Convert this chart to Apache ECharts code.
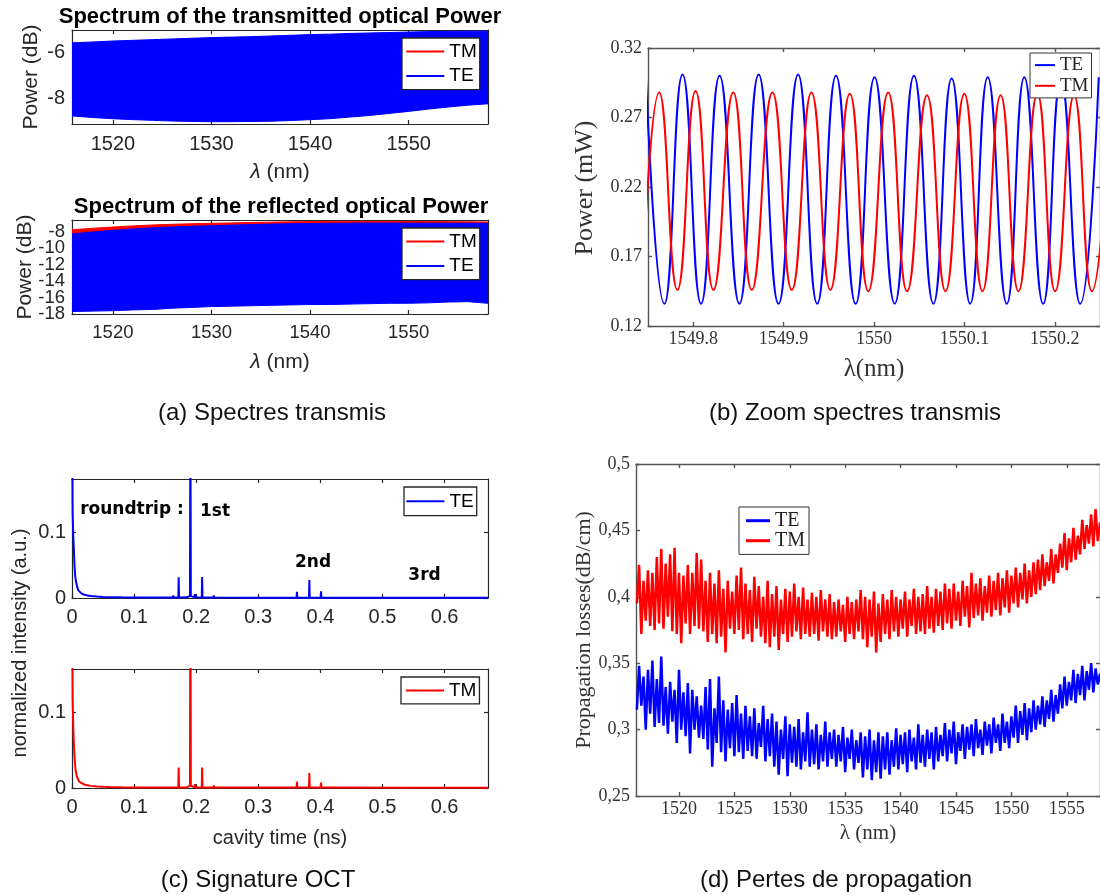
<!DOCTYPE html>
<html>
<head>
<meta charset="utf-8">
<script src="https://cdn.jsdelivr.net/npm/echarts@6/dist/echarts.min.js"></script>
<style>
html,body{margin:0;padding:0;background:#fff;}
#chart{width:1100px;height:895px;}
</style>
</head>
<body>
<div id="chart"></div>
<script>
// ---------- (a) spectra envelopes (dB) ----------
const lamSpec = [1515.85,1518,1520,1522,1524,1526,1528,1530,1532,1534,1536,1538,1540,1542,1544,1546,1548,1550,1552,1554,1556,1558.05];
const transTEtop = [-5.56,-5.52,-5.48,-5.45,-5.42,-5.39,-5.36,-5.33,-5.31,-5.29,-5.26,-5.23,-5.20,-5.18,-5.15,-5.13,-5.11,-5.09,-5.07,-5.06,-5.05,-5.05];
const transTEbot = [-8.75,-8.82,-8.87,-8.91,-8.94,-8.97,-8.99,-9.00,-9.00,-8.99,-8.98,-8.95,-8.91,-8.87,-8.80,-8.73,-8.64,-8.55,-8.45,-8.36,-8.28,-8.22];
const transTMtop = [-5.60,-5.56,-5.52,-5.49,-5.46,-5.43,-5.40,-5.37,-5.35,-5.33,-5.30,-5.27,-5.24,-5.22,-5.19,-5.17,-5.15,-5.13,-5.11,-5.10,-5.09,-5.09];
const transTMbot = [-8.70,-8.77,-8.82,-8.86,-8.89,-8.92,-8.94,-8.95,-8.95,-8.94,-8.93,-8.90,-8.86,-8.82,-8.75,-8.68,-8.59,-8.50,-8.40,-8.31,-8.23,-8.17];
const reflTEtop = [-8.28,-8.05,-7.85,-7.68,-7.55,-7.45,-7.37,-7.30,-7.22,-7.16,-7.10,-7.05,-7.02,-7.00,-6.98,-6.97,-6.97,-6.98,-6.98,-6.99,-6.99,-7.00];
const reflTEbot = [-17.7,-17.65,-17.6,-17.5,-17.45,-17.3,-17.2,-17.1,-17.05,-17.0,-16.95,-16.9,-16.85,-16.85,-16.8,-16.75,-16.7,-16.7,-16.65,-16.55,-16.5,-16.7];
const reflTMtop = [-7.79,-7.60,-7.45,-7.32,-7.20,-7.12,-7.05,-7.00,-6.95,-6.90,-6.86,-6.82,-6.79,-6.77,-6.76,-6.76,-6.77,-6.78,-6.79,-6.80,-6.82,-6.85];
const reflTMbot = [-15.0,-15.0,-15.0,-15.0,-15.0,-15.0,-15.0,-15.0,-15.0,-15.0,-15.0,-15.0,-15.0,-15.0,-15.0,-15.0,-15.0,-15.0,-15.0,-15.0,-15.0,-15.0];
const specXTicks = [1520,1530,1540,1550];
const transYTicks = [-8,-6];
const reflYTicks = [-18,-16,-14,-12,-10,-8];

// ---------- (b) zoom on transmitted spectra (mW), extrema ----------
const zoomTElam = [1549.7476,1549.7681,1549.7882,1549.8087,1549.8292,1549.8511,1549.8724,1549.8944,1549.9160,1549.9372,1549.9580,1549.9797,1550.0006,1550.0229,1550.0442,1550.0657,1550.0859,1550.1064,1550.1258,1550.1469,1550.1663,1550.1871,1550.2068,1550.2281,1550.2486];
const zoomTEpow = [0.300,0.136,0.301,0.136,0.300,0.136,0.301,0.136,0.301,0.136,0.300,0.136,0.299,0.136,0.300,0.136,0.298,0.136,0.299,0.136,0.299,0.136,0.298,0.136,0.299];
const zoomTMlam = [1549.7435,1549.7624,1549.7825,1549.8026,1549.8224,1549.8443,1549.8648,1549.8876,1549.9091,1549.9308,1549.9517,1549.9732,1549.9937,1550.0157,1550.0366,1550.0586,1550.0791,1550.0999,1550.1200,1550.1401,1550.1598,1550.1807,1550.2004,1550.2213,1550.2410,1550.2620];
const zoomTMpow = [0.146,0.288,0.146,0.289,0.146,0.288,0.146,0.288,0.146,0.288,0.146,0.287,0.145,0.288,0.145,0.286,0.145,0.287,0.145,0.286,0.145,0.287,0.145,0.286,0.145,0.286];
const zoomXTicks = [1549.8,1549.9,1550,1550.1,1550.2];
const zoomYTicks = [0.12,0.17,0.22,0.27,0.32];

// ---------- (c) OCT signature ----------
const octTime = [0,0.001,0.002,0.003,0.004,0.005,0.006,0.008,0.010,0.012,0.015,0.020,0.025,0.030,0.040,0.050,0.060,0.080,0.100,0.130,
  0.1625,0.1630,0.1635,0.1712,0.1718,0.1724,0.1845,0.1850,0.1855,0.1900,0.1907,0.1914,0.1975,0.1980,0.1985,
  0.2090,0.2096,0.2102,0.2170,0.2175,0.2180,0.2280,0.2285,0.2290,0.3000,0.3617,0.3623,0.3629,0.3817,0.3823,0.3829,
  0.4005,0.4011,0.4017,0.4205,0.4210,0.4215,0.5525,0.5530,0.5535,0.5722,0.5728,0.5734,0.5915,0.5920,0.5925,0.6700];
const octTE = [0.30,0.13,0.095,0.075,0.05,0.035,0.027,0.018,0.012,0.009,0.007,0.005,0.0038,0.003,0.0022,0.0017,0.0013,0.001,0.0008,0.0007,
  0.0007,0.004,0.0007,0.0008,0.0315,0.0008,0.001,0.004,0.001,0.003,0.30,0.003,0.001,0.006,0.001,
  0.0008,0.032,0.0008,0.0007,0.003,0.0007,0.0007,0.004,0.0007,0.0005,0.0005,0.0096,0.0005,0.0005,0.0274,0.0005,
  0.0005,0.010,0.0005,0.0005,0.0022,0.0005,0.0004,0.0018,0.0004,0.0004,0.003,0.0004,0.0004,0.0018,0.0004,0.0004];
const octTM = [0.30,0.12,0.08,0.06,0.042,0.03,0.022,0.015,0.011,0.008,0.006,0.0045,0.0035,0.0028,0.002,0.0015,0.0012,0.0009,0.0007,0.0006,
  0.0006,0.003,0.0006,0.0007,0.027,0.0007,0.0008,0.003,0.0008,0.003,0.30,0.003,0.0008,0.005,0.0008,
  0.0007,0.027,0.0007,0.0006,0.003,0.0006,0.0006,0.0035,0.0006,0.0005,0.0005,0.008,0.0005,0.0005,0.0199,0.0005,
  0.0005,0.007,0.0005,0.0005,0.002,0.0005,0.0004,0.0012,0.0004,0.0004,0.0022,0.0004,0.0004,0.0012,0.0004,0.0004];
const octXTicks = [0,0.1,0.2,0.3,0.4,0.5,0.6];
const octYTicks = [0,0.1];

// ---------- (d) propagation losses (dB/cm), sampled every 0.2 nm from 1516.2 nm ----------
const lossLamStart = 1516.2, lossLamStep = 0.2;
const lossTE = [
0.315,0.348,0.318,0.340,0.300,0.345,0.312,0.352,0.302,0.338,
0.305,0.355,0.303,0.332,0.297,0.336,0.306,0.330,0.290,0.345,
0.300,0.328,0.295,0.335,0.282,0.330,0.300,0.325,0.294,0.318,
0.293,0.332,0.285,0.338,0.272,0.316,0.290,0.340,0.283,0.322,
0.276,0.315,0.286,0.320,0.280,0.326,0.283,0.312,0.278,0.318,
0.284,0.310,0.280,0.316,0.278,0.305,0.287,0.318,0.276,0.308,
0.280,0.312,0.272,0.306,0.266,0.300,0.278,0.310,0.265,0.304,
0.275,0.302,0.272,0.308,0.270,0.298,0.276,0.313,0.272,0.300,
0.274,0.304,0.270,0.296,0.276,0.306,0.272,0.298,0.278,0.300,
0.272,0.296,0.276,0.302,0.268,0.294,0.278,0.300,0.270,0.292,
0.275,0.298,0.264,0.295,0.270,0.300,0.262,0.292,0.268,0.298,
0.263,0.295,0.270,0.298,0.266,0.292,0.272,0.301,0.270,0.296,
0.274,0.298,0.268,0.300,0.276,0.294,0.270,0.304,0.275,0.296,
0.272,0.300,0.278,0.298,0.270,0.302,0.276,0.296,0.280,0.305,
0.276,0.300,0.282,0.306,0.274,0.298,0.284,0.304,0.278,0.302,
0.285,0.304,0.280,0.308,0.286,0.300,0.281,0.306,0.288,0.304,
0.282,0.309,0.290,0.304,0.284,0.312,0.290,0.306,0.286,0.310,
0.294,0.318,0.290,0.314,0.296,0.320,0.292,0.316,0.298,0.322,
0.300,0.318,0.304,0.325,0.302,0.322,0.308,0.330,0.306,0.326,
0.312,0.334,0.316,0.340,0.318,0.336,0.322,0.345,0.320,0.342,
0.326,0.348,0.322,0.344,0.330,0.350,0.328,0.346,0.334,0.342];
const lossTM = [
0.395,0.424,0.372,0.412,0.382,0.420,0.378,0.418,0.375,0.430,
0.380,0.436,0.376,0.425,0.385,0.432,0.374,0.437,0.372,0.418,
0.365,0.416,0.380,0.424,0.372,0.418,0.378,0.433,0.376,0.428,
0.374,0.412,0.366,0.418,0.372,0.410,0.365,0.420,0.370,0.406,
0.358,0.412,0.376,0.404,0.372,0.416,0.375,0.422,0.368,0.410,
0.372,0.405,0.366,0.415,0.376,0.408,0.370,0.400,0.365,0.412,
0.362,0.402,0.370,0.408,0.360,0.398,0.372,0.406,0.366,0.404,
0.370,0.410,0.374,0.400,0.368,0.407,0.372,0.398,0.370,0.403,
0.372,0.400,0.367,0.405,0.374,0.398,0.370,0.402,0.368,0.396,
0.370,0.398,0.374,0.394,0.366,0.400,0.372,0.396,0.368,0.398,
0.374,0.405,0.368,0.400,0.362,0.398,0.370,0.404,0.358,0.395,
0.366,0.402,0.372,0.398,0.368,0.405,0.374,0.400,0.370,0.398,
0.376,0.404,0.370,0.398,0.378,0.406,0.372,0.400,0.374,0.402,
0.372,0.408,0.376,0.400,0.373,0.406,0.378,0.404,0.375,0.410,
0.380,0.406,0.376,0.410,0.382,0.404,0.378,0.412,0.385,0.408,
0.377,0.418,0.384,0.410,0.386,0.414,0.382,0.408,0.388,0.416,
0.385,0.412,0.390,0.418,0.386,0.414,0.392,0.420,0.388,0.416,
0.395,0.422,0.392,0.418,0.398,0.425,0.395,0.420,0.400,0.426,
0.402,0.428,0.405,0.432,0.408,0.426,0.412,0.436,0.410,0.432,
0.418,0.440,0.422,0.448,0.420,0.444,0.426,0.452,0.428,0.446,
0.432,0.458,0.436,0.454,0.440,0.462,0.438,0.466,0.442,0.456];
const lossXTicks = [1520,1525,1530,1535,1540,1545,1550,1555];
const lossYTicks = [0.25,0.3,0.35,0.4,0.45,0.5];

// ---------- helpers ----------
const BLUE = '#0000ff', RED = '#ff0000';
const SANS = 'Liberation Sans', SERIF = 'Liberation Serif';
const grids = [
  {left:72, top:30, width:416, height:94},
  {left:72, top:220, width:416, height:94},
  {left:648, top:48, width:455, height:278},
  {left:72, top:479, width:416, height:119},
  {left:72, top:669, width:416, height:119},
  {left:636, top:464, width:467, height:332}
];
const xAxes = [], yAxes = [];
function mkAxis(gi, dim, r, st, position, showLine, showTick, labelValues) {
  return {
    type:'value', gridIndex:gi, min:r.min, max:r.max, position,
    axisLine:{show:showLine, onZero:false, lineStyle:{color:st.axis, width:st.aw}},
    axisTick:{show:showTick, inside:true, length:st.tl, customValues:r.ticks, lineStyle:{color:st.axis, width:st.aw}},
    axisLabel:{show:!!labelValues, customValues:labelValues || r.ticks, formatter:r.fmt,
      margin: dim === 'x' ? st.mx : st.my, showMinLabel:true, showMaxLabel:true, hideOverlap:false,
      fontSize:st.fs, fontFamily:st.ff, color:st.lc, lineHeight:st.fs},
    splitLine:{show:false}
  };
}
const extraY = [];
function addAxes(gi, xr, yr, st, ySplit) {
  xAxes.push(mkAxis(gi, 'x', xr, st, 'bottom', true, true, xr.ticks),
             mkAxis(gi, 'x', xr, st, 'top', true, true, null));
  if (ySplit) {
    // dense labels: shared between two left axes so none is auto-hidden
    const even = yr.ticks.filter((_, i) => i % 2 === 0), odd = yr.ticks.filter((_, i) => i % 2 === 1);
    yAxes.push(mkAxis(gi, 'y', yr, st, 'left', true, true, even),
               mkAxis(gi, 'y', yr, st, 'right', true, true, null));
    extraY.push(mkAxis(gi, 'y', yr, st, 'left', false, false, odd));
  } else {
    yAxes.push(mkAxis(gi, 'y', yr, st, 'left', true, true, yr.ticks),
               mkAxis(gi, 'y', yr, st, 'right', true, true, null));
  }
}
const stA = {axis:'#262626', aw:1.2, tl:4, mx:10, my:7, fs:20, ff:SANS, lc:'#262626'};
const stC = {axis:'#262626', aw:1.2, tl:4, mx:9, my:6, fs:20, ff:SANS, lc:'#262626'};
const stB = {axis:'#555555', aw:1.4, tl:4, mx:4, my:6, fs:18, ff:SERIF, lc:'#333333'};
const fmtPlain = v => String(v);
const fmtComma = v => String(v).replace('.', ',');

addAxes(0, {min:1515.85, max:1558.05, ticks:specXTicks, fmt:fmtPlain}, {min:-9.1, max:-5.0, ticks:transYTicks, fmt:fmtPlain}, stA);
addAxes(1, {min:1515.85, max:1558.05, ticks:specXTicks, fmt:fmtPlain}, {min:-18.0, max:-6.6, ticks:reflYTicks, fmt:fmtPlain}, Object.assign({}, stA, {fs:18.5}), true);
addAxes(2, {min:1549.75, max:1550.25, ticks:zoomXTicks, fmt:fmtPlain}, {min:0.12, max:0.32, ticks:zoomYTicks, fmt:fmtPlain}, stB);
addAxes(3, {min:0, max:0.67, ticks:octXTicks, fmt:fmtPlain}, {min:0, max:0.181, ticks:octYTicks, fmt:fmtPlain}, stC);
addAxes(4, {min:0, max:0.67, ticks:octXTicks, fmt:fmtPlain}, {min:0, max:0.157, ticks:octYTicks, fmt:fmtPlain}, stC);
addAxes(5, {min:1516.12, max:1558.0, ticks:lossXTicks, fmt:fmtPlain}, {min:0.25, max:0.5, ticks:lossYTicks, fmt:fmtComma}, stB);
extraY.forEach(a => yAxes.push(a));

const series = [];
// filled envelope of a densely oscillating spectrum, drawn through the axes' scales
function band(gi, name, lam, top, bot, color) {
  series.push({type:'custom', name, xAxisIndex:2*gi, yAxisIndex:2*gi,
    data: lam.map((x,i) => [x, top[i], bot[i]]),
    encode:{x:0, y:[1,2]}, itemStyle:{color}, clip:true, silent:true,
    renderItem: (params, api) => {
      if (params.dataIndex !== 0) return {type:'group', children:[]};
      const pts = [];
      for (let i = 0; i < lam.length; i++) pts.push(api.coord([lam[i], top[i]]));
      for (let i = lam.length - 1; i >= 0; i--) pts.push(api.coord([lam[i], bot[i]]));
      return {type:'polygon', shape:{points:pts}, style:{fill:color, stroke:color, lineWidth:1}};
    }
  });
}
function line(gi, name, xs, ys, color, width, smooth) {
  series.push({type:'line', name, xAxisIndex:2*gi, yAxisIndex:2*gi,
    data: xs.map((x,i) => [x, ys[i]]), symbol:'none', smooth: smooth || false,
    lineStyle:{color, width}, itemStyle:{color}, animation:false, clip:true});
}
band(0, 'TM', lamSpec, transTMtop, transTMbot, RED);
band(0, 'TE', lamSpec, transTEtop, transTEbot, BLUE);
band(1, 'TM', lamSpec, reflTMtop, reflTMbot, RED);
band(1, 'TE', lamSpec, reflTEtop, reflTEbot, BLUE);
line(2, 'TE', zoomTElam, zoomTEpow, BLUE, 2, 0.5);
line(2, 'TM', zoomTMlam, zoomTMpow, RED, 2, 0.5);
line(3, 'TE', octTime, octTE, BLUE, 2);
line(4, 'TM', octTime, octTM, RED, 2);
const lossLam = lossTE.map((_, i) => +(lossLamStart + i * lossLamStep).toFixed(2));
line(5, 'TM', lossLam, lossTM, RED, 2.5);
line(5, 'TE', lossLam, lossTE, BLUE, 2.5);

function legend(data, left, top, o) {
  return {
    data, orient:'vertical', left, top, icon:'rect',
    itemWidth:o.iw, itemHeight:o.ih, itemGap:o.gap, padding:o.pad,
    textStyle:{fontSize:o.fs, fontFamily:o.ff, color:o.tc, lineHeight:o.lh},
    borderColor:o.bc, borderWidth:o.bw, backgroundColor:'#fff', borderRadius:0,
    selectedMode:false, z:10
  };
}
const lgA = {iw:38, ih:2, gap:4.6, pad:[3.5,3,3.5,4.3], fs:19, ff:SANS, tc:'#000', lh:20, bc:'#262626', bw:1.3};
const legends = [
  legend(['TM','TE'], 402, 38, lgA),
  legend(['TM','TE'], 402, 228, lgA),
  legend(['TE','TM'], 1030, 53, {iw:20, ih:2, gap:1.7, pad:[2.6,3,2.6,5], fs:19, ff:SERIF, tc:'#222', lh:19, bc:'#333', bw:1}),
  legend(['TE'], 404, 487, Object.assign({}, lgA, {pad:[4.3,3,4.3,2.4]})),
  legend(['TM'], 401, 677, Object.assign({}, lgA, {pad:[3.4,3,3.4,5]})),
  legend(['TE','TM'], 739, 507, {iw:24, ih:3, gap:0, pad:[3.7,4,3.7,7], fs:20, ff:SERIF, tc:'#222', lh:19.3, bc:'#333', bw:1})
];

function txt(text, x, y, font, opt) {
  opt = opt || {};
  return {type:'text', x, y, rotation: opt.rot || 0, z:20,
    style:{text, font, fill: opt.fill || '#000', align:'center', verticalAlign:'middle', rich: opt.rich}};
}
const richA = {i:{fontStyle:'italic', fontSize:21, fontFamily:SANS, fill:'#262626'}};
const graphics = [
  txt('Spectrum of the transmitted optical Power', 280, 17, 'bold 22px "Liberation Sans"'),
  txt('Spectrum of the reflected optical Power', 281, 207, 'bold 22px "Liberation Sans"'),
  txt('Power (dB)', 31, 77, '21px "Liberation Sans"', {rot:Math.PI/2, fill:'#262626'}),
  txt('Power (dB)', 25, 267, '21px "Liberation Sans"', {rot:Math.PI/2, fill:'#262626'}),
  txt('{i|λ} (nm)', 280, 172, '21px "Liberation Sans"', {fill:'#262626', rich:richA}),
  txt('{i|λ} (nm)', 280, 362, '21px "Liberation Sans"', {fill:'#262626', rich:richA}),
  txt('(a) Spectres transmis', 272, 413, '24px "Liberation Sans"', {fill:'#111'}),
  txt('Power (mW)', 585, 188, '26px "Liberation Serif"', {rot:Math.PI/2, fill:'#333'}),
  txt('λ(nm)', 874, 369, '25px "Liberation Serif"', {fill:'#333'}),
  txt('(b) Zoom spectres transmis', 855, 413, '24px "Liberation Sans"', {fill:'#111'}),
  txt('normalized intensity (a.u.)', 20, 643, '20px "Liberation Sans"', {rot:Math.PI/2, fill:'#262626'}),
  txt('cavity time (ns)', 280, 838, '20px "Liberation Sans"', {fill:'#262626'}),
  txt('roundtrip :', 132, 510, 'bold 17px "DejaVu Sans"'),
  txt('1st', 215, 512, 'bold 17px "DejaVu Sans"'),
  txt('2nd', 313, 563, 'bold 17px "DejaVu Sans"'),
  txt('3rd', 424.5, 576, 'bold 17px "DejaVu Sans"'),
  txt('(c) Signature OCT', 258, 880, '24px "Liberation Sans"', {fill:'#111'}),
  txt('Propagation losses(dB/cm)', 584, 630, '22px "Liberation Serif"', {rot:Math.PI/2, fill:'#333'}),
  txt('λ (nm)', 868, 833, '21px "Liberation Serif"', {fill:'#333'}),
  txt('(d) Pertes de propagation', 836, 880, '24px "Liberation Sans"', {fill:'#111'})
];

const chart = echarts.init(document.getElementById('chart'), null, {renderer:'canvas'});
chart.setOption({
  animation:false,
  backgroundColor:'#ffffff',
  grid: grids.map(g => Object.assign({containLabel:false}, g)),
  xAxis: xAxes,
  yAxis: yAxes,
  legend: legends,
  series,
  graphic: graphics
});
</script>
</body>
</html>
